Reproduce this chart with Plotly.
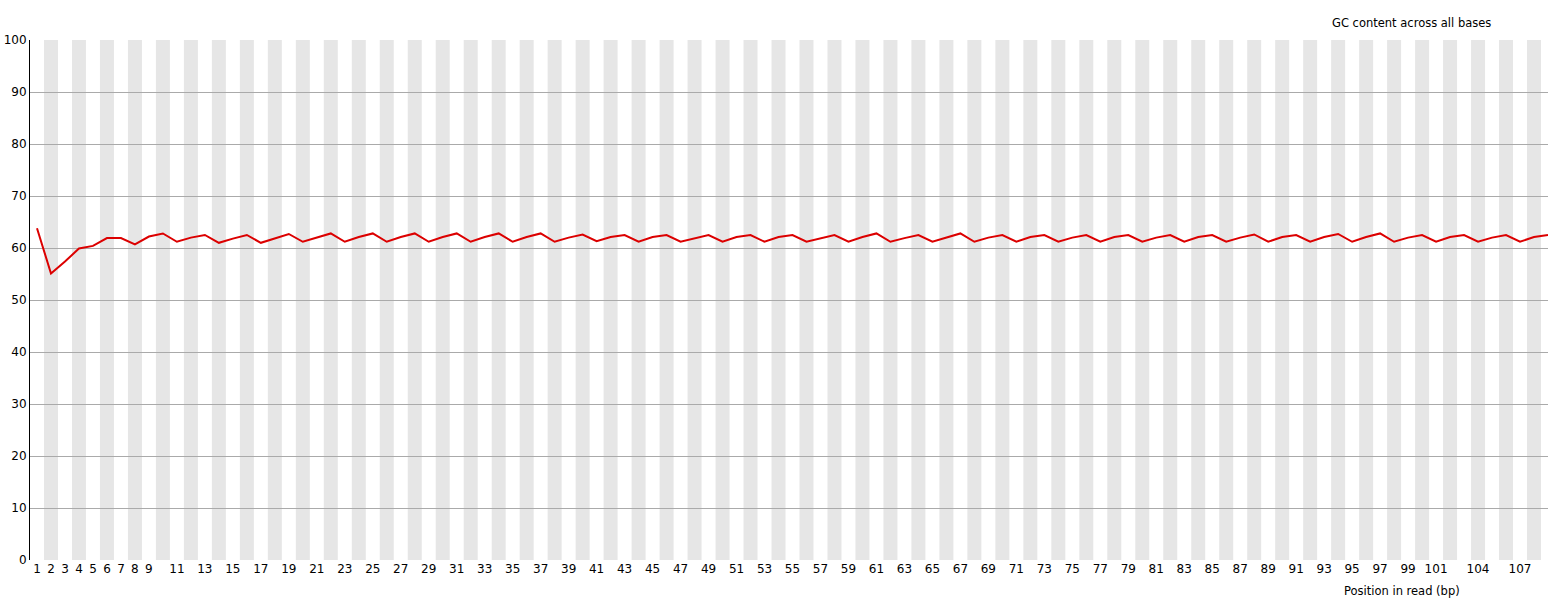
import plotly.graph_objects as go

positions = list(range(1, 110))
gc_content = [
    63.8, 55.1, 57.4, 59.9, 60.4, 61.9, 61.9, 60.7, 62.2, 62.8,
    61.2, 62.0, 62.5, 61.0, 61.8, 62.5, 61.0, 61.8, 62.7, 61.2,
    62.0, 62.8, 61.2, 62.1, 62.8, 61.2, 62.1, 62.8, 61.2, 62.1,
    62.8, 61.2, 62.1, 62.8, 61.2, 62.1, 62.8, 61.2, 62.0, 62.6,
    61.3, 62.1, 62.5, 61.2, 62.1, 62.5, 61.2, 61.9, 62.5, 61.2,
    62.1, 62.5, 61.2, 62.1, 62.5, 61.2, 61.8, 62.5, 61.2, 62.1,
    62.8, 61.2, 61.9, 62.5, 61.2, 62.0, 62.8, 61.2, 62.0, 62.5,
    61.2, 62.1, 62.5, 61.2, 62.0, 62.5, 61.2, 62.1, 62.5, 61.2,
    62.0, 62.5, 61.2, 62.1, 62.5, 61.2, 62.0, 62.6, 61.2, 62.1,
    62.5, 61.2, 62.1, 62.7, 61.2, 62.1, 62.8, 61.2, 62.0, 62.5,
    61.2, 62.1, 62.5, 61.2, 62.0, 62.5, 61.2, 62.1, 62.5,
]
tick_labels = [str(i) for i in range(1, 10)] + [str(i) for i in range(11, 102, 2)] + ["104", "107"]
tick_values = [int(t) for t in tick_labels]
y_ticks = list(range(0, 101, 10))

title_text = "GC content across all bases"
xaxis_text = "Position in read (bp)"

fig = go.Figure()
fig.add_trace(go.Scatter(
    x=positions, y=gc_content, mode="lines",
    line=dict(color="rgb(220,0,0)", width=2),
    showlegend=False, hoverinfo="x+y",
))

shapes = []
for p in positions:
    if p % 2 == 0:
        shapes.append(dict(type="rect", xref="x", yref="paper",
                           x0=p - 0.5, x1=p + 0.5, y0=0, y1=1,
                           fillcolor="#e6e6e6", line=dict(width=0), layer="below"))

fig.update_layout(
    width=1548, height=600,
    margin=dict(l=30, r=0, t=40, b=40, autoexpand=False),
    paper_bgcolor="white", plot_bgcolor="white",
    font=dict(family="DejaVu Sans", size=12, color="black"),
    shapes=shapes,
    xaxis=dict(range=[0.5, 109.0], tickmode="array", tickvals=tick_values,
               ticktext=tick_labels, showgrid=False, zeroline=False,
               showline=False, ticks="", tickfont=dict(size=12), automargin=False),
    yaxis=dict(range=[0, 100], tickmode="array", tickvals=y_ticks,
               showgrid=True, gridcolor="#aaaaaa", gridwidth=1,
               zeroline=False, showline=True, linecolor="black", linewidth=1,
               ticks="", tickfont=dict(size=12), automargin=False),
    annotations=[
        dict(text=title_text, xref="paper", yref="paper", x=0.91, y=1,
             xanchor="center", yanchor="bottom", yshift=8, showarrow=False,
             font=dict(size=11.5)),
        dict(text=xaxis_text, xref="paper", yref="paper", x=0.904, y=0,
             xanchor="center", yanchor="top", yshift=-22, showarrow=False,
             font=dict(size=11.5)),
    ],
)

fig.write_html("out.html", config={"displayModeBar": False},
               post_script="document.body.style.margin='0';")
